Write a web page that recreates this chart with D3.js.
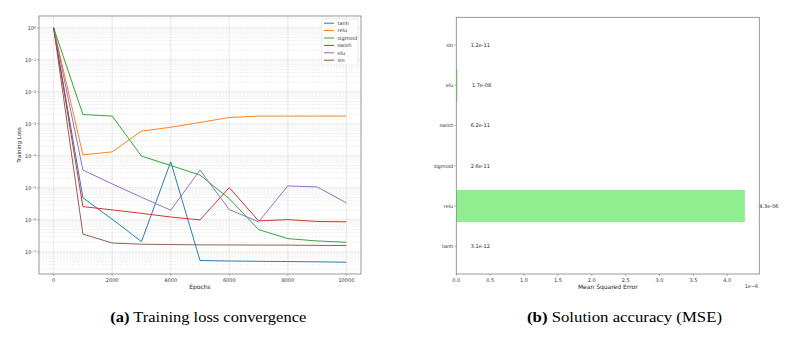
<!DOCTYPE html>
<html><head><meta charset="utf-8">
<script src="https://cdn.jsdelivr.net/npm/d3@7"></script>
<style>
html,body{margin:0;padding:0;background:#fff;}
svg{display:block;font-family:"DejaVu Sans",sans-serif;}
</style></head>
<body>
<svg id="c" width="803" height="340"></svg>
<script>
// ---------- data ----------
const epochs = [0,1000,2000,3000,4000,5000,6000,7000,8000,9000,10000];
const seriesNames = ["tanh","relu","sigmoid","swish","elu","sin"];
const seriesColors = ["#1f77b4","#ff7f0e","#2ca02c","#d62728","#9467bd","#8c564b"];
const lossTanh    = [1, 4.9e-6, 1.05e-6, 2.1e-7, 6.5e-5, 5.4e-8, 5.2e-8, 5.1e-8, 5.0e-8, 4.9e-8, 4.75e-8];
const lossRelu    = [1, 1.07e-4, 1.33e-4, 5.9e-4, 7.8e-4, 1.1e-3, 1.58e-3, 1.74e-3, 1.74e-3, 1.74e-3, 1.74e-3];
const lossSigmoid = [1, 1.95e-3, 1.74e-3, 9.8e-5, 5.0e-5, 2.5e-5, 4.6e-6, 5.0e-7, 2.6e-7, 2.2e-7, 2.0e-7];
const lossSwish   = [1, 2.6e-6, 2.05e-6, 1.6e-6, 1.23e-6, 1.0e-6, 1.02e-5, 9.3e-7, 1.02e-6, 8.9e-7, 8.7e-7];
const lossElu     = [1, 3.6e-5, 1.33e-5, 5.1e-6, 2.0e-6, 3.6e-5, 2.1e-6, 8.7e-7, 1.15e-5, 1.07e-5, 3.4e-6];
const lossSin     = [1, 3.6e-7, 1.9e-7, 1.74e-7, 1.7e-7, 1.66e-7, 1.65e-7, 1.64e-7, 1.63e-7, 1.6e-7, 1.58e-7];
const lossSeries = [lossTanh, lossRelu, lossSigmoid, lossSwish, lossElu, lossSin];
const xTicksA = [0,2000,4000,6000,8000,10000];
const yTickExpA = [0,-1,-2,-3,-4,-5,-6,-7];

const mseCategories = ["tanh","relu","sigmoid","swish","elu","sin"];
const mseValues = [3.1e-12, 4.26e-6, 2.6e-11, 6.2e-11, 1.7e-8, 1.2e-11];
const xTicksB = [0,0.5,1.0,1.5,2.0,2.5,3.0,3.5,4.0];

// ---------- helpers ----------
const svg = d3.select("#c");
const sup = {"0":"⁰","1":"¹","2":"²","3":"³","4":"⁴","5":"⁵","6":"⁶","7":"⁷","8":"⁸","9":"⁹","-":"⁻"};
const supStr = e => String(e).split("").map(c=>sup[c]).join("");
const fmtE = v => { let s = v.toExponential(1); let [m,e] = s.split("e"); const sign = e[0]==="-"?"-":"+"; let n = e.replace(/[+-]/,""); if(n.length<2) n="0"+n; return m+"e"+sign+n; };
const frameColor = "#7f7f7f", tickTextColor = "#333", fs = 5;

// ---------- chart A ----------
{
  const L=39,R=361,T=16,B=274;
  const x = d3.scaleLinear().domain([-500,10500]).range([L,R]);
  const all = lossSeries.flat();
  const lmin = Math.log10(d3.min(all)), lmax = Math.log10(d3.max(all));
  const pad = (lmax-lmin)*0.05;
  const y = d3.scaleLog().domain([Math.pow(10,lmin-pad), Math.pow(10,lmax+pad)]).range([B,T]);
  const g = svg.append("g");
  const minor=[];
  for(let e=-8;e<=0;e++) for(let k=2;k<=9;k++){const v=k*Math.pow(10,e); if(v>=y.domain()[0]&&v<=y.domain()[1]) minor.push(v);}
  g.selectAll(".ymin").data(minor).join("line").attr("x1",L).attr("x2",R)
    .attr("y1",d=>y(d)).attr("y2",d=>y(d)).attr("stroke","#e6e6e6").attr("stroke-width",0.6).attr("stroke-dasharray","2,1");
  g.selectAll(".ymaj").data(yTickExpA).join("line").attr("x1",L).attr("x2",R)
    .attr("y1",d=>y(Math.pow(10,d))).attr("y2",d=>y(Math.pow(10,d))).attr("stroke","#dcdcdc").attr("stroke-width",0.7);
  g.selectAll(".xmaj").data(xTicksA).join("line").attr("y1",T).attr("y2",B)
    .attr("x1",d=>x(d)).attr("x2",d=>x(d)).attr("stroke","#e0e0e0").attr("stroke-width",0.7);
  const line = d3.line().x((d,i)=>x(epochs[i])).y(d=>y(d));
  lossSeries.forEach((s,i)=>{
    g.append("path").attr("d",line(s)).attr("fill","none").attr("stroke",seriesColors[i]).attr("stroke-width",0.95).attr("stroke-linejoin","round");
  });
  g.append("rect").attr("x",L).attr("y",T).attr("width",R-L).attr("height",B-T).attr("fill","none").attr("stroke",frameColor).attr("stroke-width",0.8);
  g.selectAll(".xt").data(xTicksA).join("line").attr("x1",d=>x(d)).attr("x2",d=>x(d)).attr("y1",B).attr("y2",B+2).attr("stroke",frameColor).attr("stroke-width",0.6);
  g.selectAll(".xtl").data(xTicksA).join("text").attr("x",d=>x(d)).attr("y",B+8).attr("text-anchor","middle")
    .attr("font-size",fs).attr("fill",tickTextColor).text(d=>d);
  g.selectAll(".yt").data(yTickExpA).join("line").attr("x1",L-2).attr("x2",L).attr("y1",d=>y(Math.pow(10,d))).attr("y2",d=>y(Math.pow(10,d))).attr("stroke",frameColor).attr("stroke-width",0.6);
  g.selectAll(".ytl").data(yTickExpA).join("text").attr("x",L-3).attr("y",d=>y(Math.pow(10,d))+1.8).attr("text-anchor","end")
    .attr("font-size",fs).attr("fill",tickTextColor).text(d=>"10"+supStr(d));
  g.append("text").attr("x",(x(0)+x(10000))/2).attr("y",B+15).attr("text-anchor","middle").attr("font-size",6).attr("fill","#222").text("Epochs");
  g.append("text").attr("transform",`translate(21,${(T+B)/2}) rotate(-90)`).attr("text-anchor","middle").attr("font-size",5.5).attr("fill","#222").text("Training Loss");
  const lg = g.append("g");
  lg.append("rect").attr("x",321.5).attr("y",19).attr("width",36.5).attr("height",46).attr("rx",1.5).attr("fill","#fff").attr("fill-opacity",0.85).attr("stroke","#ddd").attr("stroke-width",0.6);
  seriesNames.forEach((n,i)=>{
    const yy = 23.2 + i*7.4;
    lg.append("line").attr("x1",324).attr("x2",334).attr("y1",yy).attr("y2",yy).attr("stroke",seriesColors[i]).attr("stroke-width",1);
    lg.append("text").attr("x",337.5).attr("y",yy+1.7).attr("font-size",fs).attr("fill",tickTextColor).text(n);
  });
}

// ---------- chart B ----------
{
  const L=456.3,R=759.3,T=17.3,B=274;
  const vmax = d3.max(mseValues);
  const x = d3.scaleLinear().domain([0, vmax*1.05]).range([L,R]);
  const y = d3.scaleBand().domain(mseCategories).range([B,T]).paddingInner(0.2).paddingOuter(0.29);
  const g = svg.append("g");
  g.selectAll(".bar").data(mseValues).join("rect")
    .attr("x",x(0)).attr("y",(d,i)=>y(mseCategories[i])).attr("height",y.bandwidth())
    .attr("width",d=>Math.max(0,x(d)-x(0))).attr("fill","#90ee90");
  g.selectAll(".vl").data(mseValues).join("text")
    .attr("x",d=>x(d+vmax*0.05)).attr("y",(d,i)=>y(mseCategories[i])+y.bandwidth()/2+1.8)
    .attr("font-size",fs).attr("fill","#222").text(d=>fmtE(d));
  g.append("rect").attr("x",L).attr("y",T).attr("width",R-L).attr("height",B-T).attr("fill","none").attr("stroke",frameColor).attr("stroke-width",0.8);
  g.selectAll(".xt").data(xTicksB).join("line").attr("x1",d=>x(d*1e-6)).attr("x2",d=>x(d*1e-6)).attr("y1",B).attr("y2",B+2).attr("stroke",frameColor).attr("stroke-width",0.6);
  g.selectAll(".xtl").data(xTicksB).join("text").attr("x",d=>x(d*1e-6)).attr("y",B+8).attr("text-anchor","middle")
    .attr("font-size",fs).attr("fill",tickTextColor).text(d=>d.toFixed(1));
  g.selectAll(".yt").data(mseCategories).join("line").attr("x1",L-2).attr("x2",L).attr("y1",d=>y(d)+y.bandwidth()/2).attr("y2",d=>y(d)+y.bandwidth()/2).attr("stroke",frameColor).attr("stroke-width",0.6);
  g.selectAll(".ytl").data(mseCategories).join("text").attr("x",L-3).attr("y",d=>y(d)+y.bandwidth()/2+1.8).attr("text-anchor","end")
    .attr("font-size",fs).attr("fill",tickTextColor).text(d=>d);
  g.append("text").attr("x",(L+R)/2).attr("y",B+15).attr("text-anchor","middle").attr("font-size",6).attr("fill","#222").text("Mean Squared Error");
  g.append("text").attr("x",R-1).attr("y",B+14).attr("text-anchor","end").attr("font-size",fs).attr("fill",tickTextColor).text("1e−6");
}

// ---------- captions ----------
const cap = (cx, w, lab, txt) => {
  const t = svg.append("text").attr("x",cx).attr("y",321.7).attr("text-anchor","middle")
    .attr("font-family","'Liberation Serif','Times New Roman',serif").attr("font-size",15).attr("fill","#000")
    .attr("textLength",w).attr("lengthAdjust","spacingAndGlyphs");
  t.append("tspan").attr("font-weight","bold").text(lab);
  t.append("tspan").text(" "+txt);
};
cap(208.3, 196, "(a)", "Training loss convergence");
cap(624.5, 195, "(b)", "Solution accuracy (MSE)");
</script>
</body></html>
